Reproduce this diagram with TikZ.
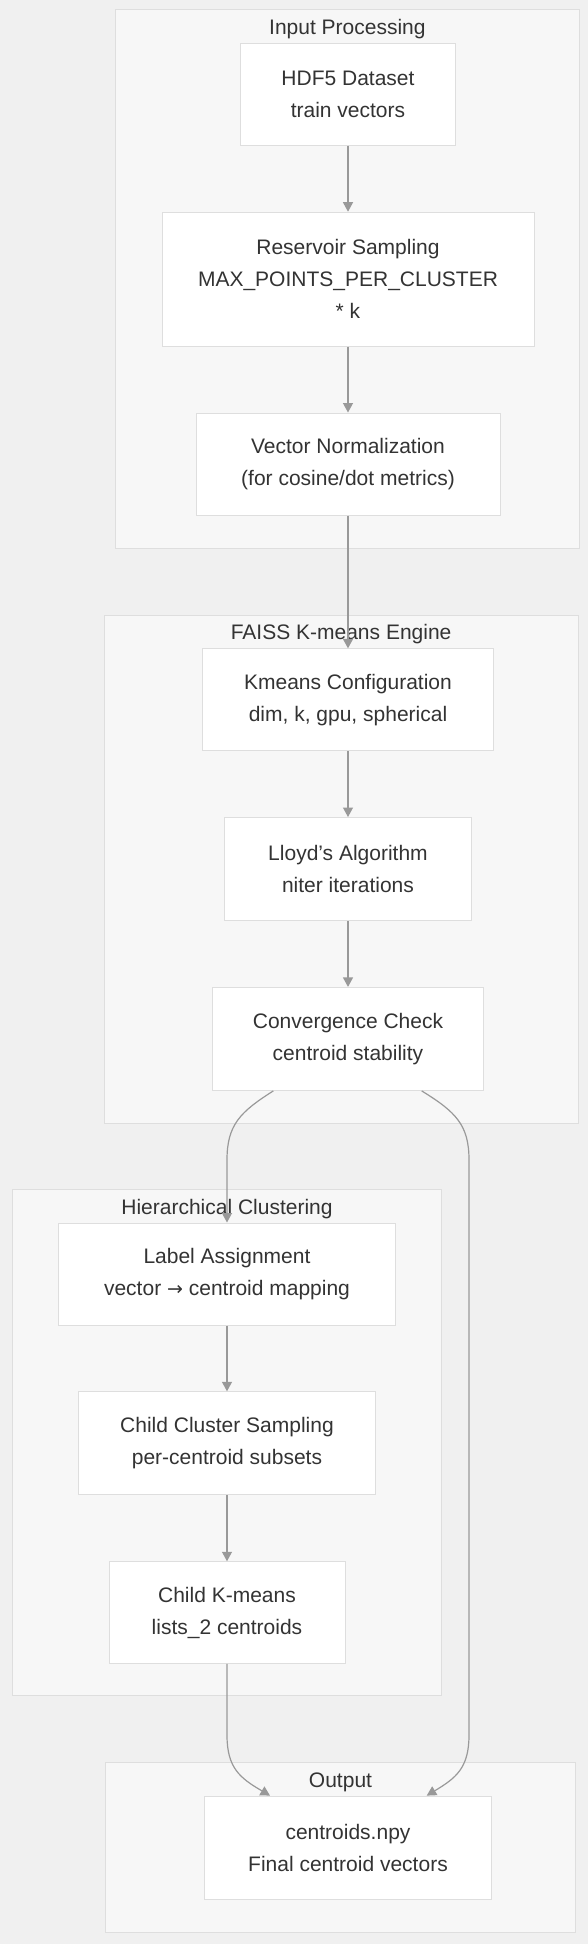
\documentclass[tikz,border=0pt]{standalone}
\usepackage{fontspec}
\setmainfont{Liberation Sans}
\newfontfamily\arrowfont{DejaVu Sans}
\usetikzlibrary{arrows.meta}
\definecolor{bg}{RGB}{240,240,240}
\definecolor{clfill}{RGB}{247,247,247}
\definecolor{clline}{RGB}{222,222,222}
\definecolor{ndline}{RGB}{222,222,222}
\definecolor{edgecol}{RGB}{153,153,153}
\definecolor{txt}{RGB}{51,51,51}
\begin{document}
\begin{tikzpicture}[x=1pt,y=-1pt,
  box/.style={draw=ndline,fill=white,line width=1pt,inner sep=0pt,align=center,text=txt,font=\fontsize{21}{32}\selectfont},
  cluster/.style={draw=clline,fill=clfill,line width=1pt},
  ctitle/.style={text=txt,font=\fontsize{21}{25}\selectfont,inner sep=0pt,anchor=base},
  conn/.style={draw=edgecol,line width=1.2pt,-{Triangle[length=9.5pt,width=10pt]}}]
\fill[bg] (0,0) rectangle (588,1944);
\useasboundingbox (0,0) rectangle (588,1944);
% clusters
\draw[cluster] (115.4,9.9) rectangle (579.3,548.3);
\node[ctitle] (t1) at (347.4,34.3) {Input Processing};
\draw[cluster] (104.2,615.3) rectangle (578,1123.9);
\node[ctitle] (t2) at (341.1,639.8) {FAISS K-means Engine};
\draw[cluster] (12.4,1189.6) rectangle (441.6,1695.8);
\node[ctitle] (t3) at (227,1214.1) {Hierarchical Clustering};
\draw[cluster] (105.4,1762.8) rectangle (575.6,1932.7);
\node[ctitle] (t4) at (340.5,1787.3) {Output};
% nodes
\node[box,minimum width=214.6pt,minimum height=101.7pt] (hdf) at (348,94.3) {HDF5 Dataset\\train vectors};
\node[box,minimum width=372pt,minimum height=134pt] (res) at (348,279.2) {Reservoir Sampling\\MAX\_POINTS\_PER\_CLUSTER\\* k};
\node[box,minimum width=304pt,minimum height=102pt] (vec) at (348,464) {Vector Normalization\\(for cosine/dot metrics)};
\node[box,minimum width=291.7pt,minimum height=101.7pt] (kmc) at (348,699.7) {Kmeans Configuration\\dim, k, gpu, spherical};
\node[box,minimum width=247pt,minimum height=103pt] (lloyd) at (348,869) {Lloyd's Algorithm\\niter iterations};
\node[box,minimum width=271.8pt,minimum height=103pt] (conv) at (348,1038.9) {Convergence Check\\centroid stability};
\node[box,minimum width=337.4pt,minimum height=102pt] (label) at (227,1274) {Label Assignment\\vector {\arrowfont\fontsize{19}{32}\selectfont →} centroid mapping};
\node[box,minimum width=296.6pt,minimum height=103pt] (csamp) at (227,1443.3) {Child Cluster Sampling\\per-centroid subsets};
\node[box,minimum width=236pt,minimum height=101.7pt] (childk) at (227,1612.6) {Child K-means\\lists\_2 centroids};
\node[box,minimum width=286.5pt,minimum height=103pt] (cent) at (348,1847.6) {centroids.npy\\Final centroid vectors};
% edges
\draw[conn] (hdf) -- (res);
\draw[conn] (res) -- (vec);
\draw[conn] (vec) -- (kmc);
\draw[conn] (kmc) -- (lloyd);
\draw[conn] (lloyd) -- (conv);
\draw[conn] ([xshift=-74.7pt]conv.south) .. controls (240,1112) and (227,1125) .. (227,1160) -- (label.north);
\draw[conn] ([xshift=73.7pt]conv.south) .. controls (456,1112) and (469,1125) .. (469,1160) -- (469,1735) .. controls (469,1768) and (456,1778) .. ([xshift=78.7pt]cent.north);
\draw[conn] (label) -- (csamp);
\draw[conn] (csamp) -- (childk);
\draw[conn] (childk.south) -- (227,1735) .. controls (227,1768) and (240,1778) .. ([xshift=-78pt]cent.north);
\end{tikzpicture}
\end{document}
